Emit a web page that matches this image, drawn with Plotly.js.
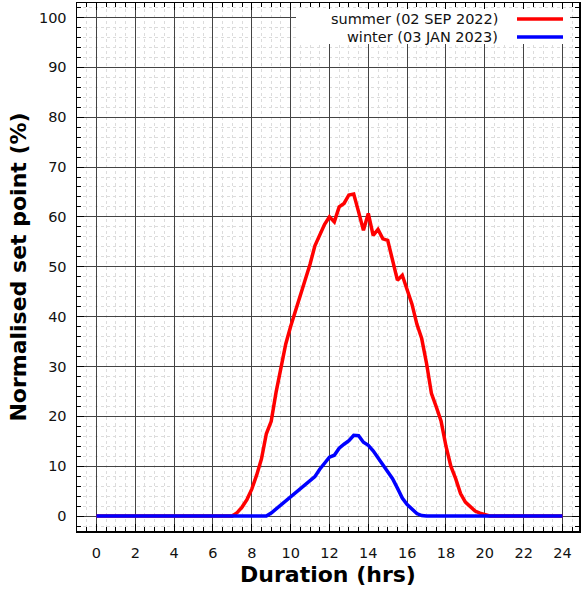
<!DOCTYPE html>
<html>
<head>
<meta charset="utf-8">
<script src="https://cdn.plot.ly/plotly-3.0.1.min.js"></script>
<style>html,body{margin:0;padding:0;background:#fff;}#chart{width:581px;height:594px;}</style>
</head>
<body>
<div id="chart"></div>
<script>
// Summer (02 SEP 2022)
const summerHours = [0, 7.0, 7.25, 7.5, 7.75, 8.0, 8.25, 8.5, 8.75, 9.0, 9.25, 9.5, 9.75, 10.0, 10.25, 10.5, 10.75, 11.0, 11.25, 11.5, 11.75, 12.0, 12.25, 12.5, 12.75, 13.0, 13.25, 13.5, 13.75, 14.0, 14.25, 14.5, 14.75, 15.0, 15.25, 15.5, 15.75, 16.0, 16.25, 16.5, 16.75, 17.0, 17.25, 17.5, 17.75, 18.0, 18.25, 18.5, 18.75, 19.0, 19.25, 19.5, 19.75, 20.0, 20.25, 24];
const summerValues = [0, 0, 0.7, 1.8, 3.3, 5.4, 8.2, 11.5, 16.5, 19, 24.8, 30, 34.5, 38, 41, 44, 47.3, 50.5, 54.2, 56.5, 58.5, 60, 59, 62, 62.7, 64.4, 64.6, 61, 57.3, 60.7, 56.3, 57.5, 55.6, 55.3, 51.5, 47.3, 48.3, 45.5, 42.5, 38.5, 35.6, 30.6, 24.6, 21.9, 19, 14, 10, 7.5, 4.5, 2.8, 1.8, 1.0, 0.6, 0.3, 0, 0];
// Winter (03 JAN 2023)
const winterHours = [0, 8.75, 9.0, 9.25, 9.5, 9.75, 10.0, 10.25, 10.5, 10.75, 11.0, 11.25, 11.5, 11.75, 12.0, 12.25, 12.5, 12.75, 13.0, 13.25, 13.5, 13.75, 14.0, 14.25, 14.5, 14.75, 15.0, 15.25, 15.5, 15.75, 16.0, 16.25, 16.5, 16.75, 17.0, 24];
const winterValues = [0, 0, 0.6, 1.4, 2.2, 3.0, 3.8, 4.5, 5.3, 6.1, 6.9, 7.9, 9.4, 10.7, 11.8, 12.2, 13.6, 14.4, 15.1, 16.2, 16.1, 14.8, 14.2, 13.1, 11.8, 10.3, 8.9, 7.5, 5.6, 3.6, 2.3, 1.3, 0.5, 0.1, 0, 0];

const seriesNames = ["summer (02 SEP 2022)", "winter (03 JAN 2023)"];
const seriesColors = ["#ff0000", "#0000ff"];
const xTickVals = [0, 2, 4, 6, 8, 10, 12, 14, 16, 18, 20, 22, 24];
const yTickVals = [0, 10, 20, 30, 40, 50, 60, 70, 80, 90, 100];

const traces = [
  {x: summerHours, y: summerValues, name: seriesNames[0], mode: "lines", line: {color: seriesColors[0], width: 3.5}},
  {x: winterHours, y: winterValues, name: seriesNames[1], mode: "lines", line: {color: seriesColors[1], width: 3.5}}
];

const L = 77, R = 2, T = 3, B = 63, W = 581, H = 594;
const pw = W - L - R, ph = H - T - B;
const px = v => (v - L) / pw;
const py = v => (H - B - v) / ph;

const axisCommon = {
  showline: true, linecolor: "#000", linewidth: 1.5, mirror: "allticks",
  ticks: "inside", ticklen: 7, tickcolor: "#000", tickwidth: 1,
  showgrid: true, gridcolor: "#444", gridwidth: 1,
  zeroline: false,
  tickfont: {family: "DejaVu Sans", size: 14.5, color: "#111"}
};

const minorGrid = {ticks: "inside", ticklen: 4, tickcolor: "#000", showgrid: true, gridcolor: "#dcdcdc", griddash: "dot", gridwidth: 1};

const layout = {
  width: W, height: H,
  margin: {l: L, r: R, t: T, b: B},
  paper_bgcolor: "#fff", plot_bgcolor: "#fff",
  showlegend: false,
  xaxis: Object.assign({}, axisCommon, {
    range: [-1, 24.85],
    tickvals: xTickVals, ticktext: xTickVals.map(String),
    ticklabelstandoff: 8,
    minor: Object.assign({dtick: 0.5}, minorGrid),
    title: {text: "Duration (hrs)", font: {family: "DejaVu Sans", size: 22, color: "#000", weight: "bold"}, standoff: 6}
  }),
  yaxis: Object.assign({}, axisCommon, {
    range: [-3, 102.9],
    tickvals: yTickVals, ticktext: yTickVals.map(String),
    ticklabelstandoff: 6,
    minor: Object.assign({dtick: 2}, minorGrid),
    title: {text: "Normalised set point (%)", font: {family: "DejaVu Sans", size: 22, color: "#000", weight: "bold"}, standoff: 6}
  }),
  shapes: [
    {type: "rect", xref: "paper", yref: "paper", x0: px(296), x1: px(570), y0: py(44), y1: py(9), fillcolor: "#fff", line: {width: 0}, layer: "above"},
    {type: "line", xref: "paper", yref: "paper", x0: px(517), x1: px(563), y0: py(19), y1: py(19), line: {color: seriesColors[0], width: 3.5}, layer: "above"},
    {type: "line", xref: "paper", yref: "paper", x0: px(517), x1: px(563), y0: py(37), y1: py(37), line: {color: seriesColors[1], width: 3.5}, layer: "above"}
  ],
  annotations: [
    {xref: "paper", yref: "paper", x: px(500), y: py(19), xanchor: "right", yanchor: "middle", text: seriesNames[0], showarrow: false, font: {family: "DejaVu Sans", size: 14.5, color: "#111"}},
    {xref: "paper", yref: "paper", x: px(500), y: py(37), xanchor: "right", yanchor: "middle", text: seriesNames[1], showarrow: false, font: {family: "DejaVu Sans", size: 14.5, color: "#111"}}
  ]
};

Plotly.newPlot("chart", traces, layout, {staticPlot: true, displayModeBar: false});
</script>
</body>
</html>
